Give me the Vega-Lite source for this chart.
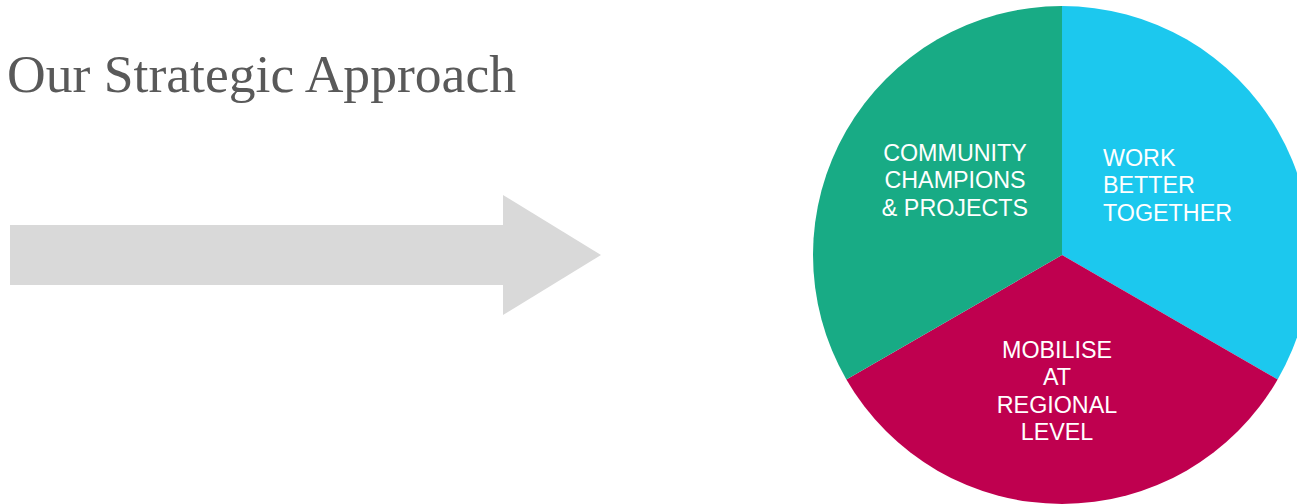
{
  "$schema": "https://vega.github.io/schema/vega-lite/v6.json",
  "padding": 0,
  "background": "white",
  "config": {"view": {"stroke": null}, "concat": {"spacing": 13}},
  "datasets": {
    "arrow": [
      {"part": "body", "px": 10, "py": 225, "py2": 285},
      {"part": "body", "px": 503, "py": 225, "py2": 285},
      {"part": "head", "px": 503, "py": 195, "py2": 315},
      {"part": "head", "px": 601, "py": 255, "py2": 255}
    ],
    "title": [{"label": "Our Strategic Approach", "px": 7, "py": 92}],
    "slices": [
      {"name": "WORK BETTER TOGETHER", "value": 1, "order": 1},
      {"name": "MOBILISE AT REGIONAL LEVEL", "value": 1, "order": 2},
      {"name": "COMMUNITY CHAMPIONS & PROJECTS", "value": 1, "order": 3}
    ],
    "labels": [
      {"label": "COMMUNITY\nCHAMPIONS\n& PROJECTS", "px": 142, "py": 161, "align": "center"},
      {"label": "WORK\nBETTER\nTOGETHER", "px": 290, "py": 166, "align": "left"},
      {"label": "MOBILISE\nAT\nREGIONAL\nLEVEL", "px": 244, "py": 358, "align": "center"}
    ]
  },
  "hconcat": [
    {
      "width": 800,
      "height": 510,
      "layer": [
        {
          "data": {"name": "arrow"},
          "mark": {"type": "area", "color": "#D9D9D9", "interpolate": "linear", "opacity": 1},
          "encoding": {
            "x": {"field": "px", "type": "quantitative", "scale": {"domain": [0, 800], "nice": false, "zero": false}, "axis": null},
            "y": {"field": "py", "type": "quantitative", "stack": null, "scale": {"domain": [0, 510], "nice": false, "reverse": true}, "axis": null},
            "y2": {"field": "py2"},
            "detail": {"field": "part"}
          }
        },
        {
          "data": {"name": "title"},
          "mark": {"type": "text", "font": "Liberation Serif", "fontSize": 53.6, "color": "#595959", "align": "left", "baseline": "alphabetic"},
          "encoding": {
            "x": {"field": "px", "type": "quantitative"},
            "y": {"field": "py", "type": "quantitative"},
            "text": {"field": "label"}
          }
        }
      ]
    },
    {
      "width": 498,
      "height": 510,
      "resolve": {"scale": {"x": "shared", "y": "shared"}},
      "layer": [
        {
          "data": {"name": "slices"},
          "mark": {"type": "arc", "outerRadius": 249, "stroke": null},
          "encoding": {
            "theta": {"field": "value", "type": "quantitative", "stack": true},
            "order": {"field": "order", "type": "quantitative"},
            "color": {
              "field": "name", "type": "nominal", "legend": null,
              "scale": {
                "domain": ["WORK BETTER TOGETHER", "MOBILISE AT REGIONAL LEVEL", "COMMUNITY CHAMPIONS & PROJECTS"],
                "range": ["#1CC8EE", "#BF004F", "#18AB85"]
              }
            }
          }
        },
        {
          "data": {"name": "labels"},
          "transform": [{"filter": "datum.align === 'center'"}],
          "mark": {"type": "text", "font": "Liberation Sans", "fontSize": 23.3, "color": "white", "align": "center", "baseline": "alphabetic", "lineBreak": "\n", "lineHeight": 27.3},
          "encoding": {
            "x": {"field": "px", "type": "quantitative", "scale": {"domain": [0, 498], "nice": false, "zero": false}, "axis": null},
            "y": {"field": "py", "type": "quantitative", "scale": {"domain": [0, 510], "nice": false, "reverse": true}, "axis": null},
            "text": {"field": "label"}
          }
        },
        {
          "data": {"name": "labels"},
          "transform": [{"filter": "datum.align === 'left'"}],
          "mark": {"type": "text", "font": "Liberation Sans", "fontSize": 23.3, "color": "white", "align": "left", "baseline": "alphabetic", "lineBreak": "\n", "lineHeight": 27.3},
          "encoding": {
            "x": {"field": "px", "type": "quantitative", "scale": {"domain": [0, 498], "nice": false, "zero": false}, "axis": null},
            "y": {"field": "py", "type": "quantitative", "scale": {"domain": [0, 510], "nice": false, "reverse": true}, "axis": null},
            "text": {"field": "label"}
          }
        }
      ]
    }
  ]
}
